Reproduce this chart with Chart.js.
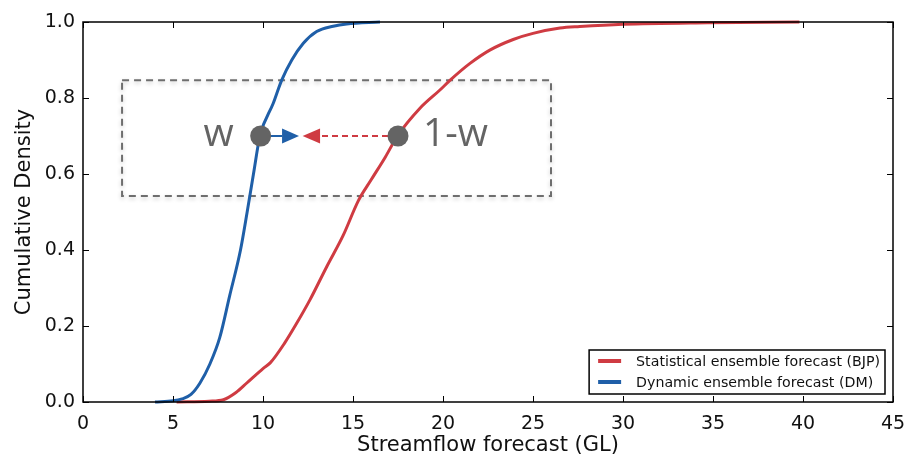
<!DOCTYPE html>
<html>
<head>
<meta charset="utf-8">
<script src="https://cdn.jsdelivr.net/npm/chart.js@4.4.1/dist/chart.umd.min.js"></script>
<style>
  html, body { margin: 0; padding: 0; background: #fff; }
  #wrap { width: 914px; height: 458px; }
</style>
</head>
<body>
<div id="wrap"><canvas id="chart"></canvas></div>
<script>
// ---- data ----
const bjpX = [5.2, 7.0, 7.8, 8.5, 9.1, 10.0, 10.4, 11.2, 11.87, 12.6, 13.54, 14.46, 15.3, 16.0, 16.8, 17.47, 18.72, 19.83, 20.4, 21.5, 22.6, 23.9, 25.0, 26.5, 27.6, 30.0, 34.7, 39.8];
const bjpY = [0, 0.002, 0.006, 0.025, 0.05, 0.088, 0.103, 0.155, 0.207, 0.268, 0.356, 0.439, 0.53, 0.584, 0.645, 0.7, 0.773, 0.821, 0.847, 0.891, 0.926, 0.954, 0.97, 0.984, 0.988, 0.994, 0.998, 1.0];
const dmX = [4.0, 5.0, 5.5, 6.0, 6.5, 7.05, 7.6, 8.15, 8.75, 9.12, 9.47, 9.83, 10.57, 11.04, 11.6, 12.24, 12.98, 13.9, 14.65, 16.5];
const dmY = [0, 0.003, 0.008, 0.02, 0.05, 0.1, 0.17, 0.28, 0.4, 0.5, 0.6, 0.7, 0.786, 0.847, 0.9, 0.944, 0.975, 0.989, 0.995, 1.0];
const seriesNames = ['Statistical ensemble forecast (BJP)', 'Dynamic ensemble forecast (DM)'];
const xTicks = [0, 5, 10, 15, 20, 25, 30, 35, 40, 45];
const yTicks = [0, 0.2, 0.4, 0.6, 0.8, 1.0];

// annotation in data units
const boxX = [2.17, 26];
const boxY = [0.542, 0.847];
const dotX = [9.87, 17.5];
const dotY = [0.7, 0.7];
const dotLabels = ['w', '1-w'];
const pullDM = [9.87, 11.06, 12.0];   // start, head base, tip
const pullBJP = [17.5, 13.17, 12.2];

const RED = '#cf3b42';
const BLUE = '#1f5fa8';
const GREY = '#646464';
const FONT = "'DejaVu Sans', sans-serif";
const seriesColors = [RED, BLUE];

function arrow(ctx, x, y, seg, col, dash) {
  const y0 = y.getPixelForValue(dotY[0]);
  const a = x.getPixelForValue(seg[0]), b = x.getPixelForValue(seg[1]), tip = x.getPixelForValue(seg[2]);
  ctx.save();
  ctx.strokeStyle = col; ctx.fillStyle = col; ctx.lineWidth = 2;
  ctx.setLineDash(dash);
  ctx.beginPath(); ctx.moveTo(a, y0); ctx.lineTo(b, y0); ctx.stroke();
  ctx.setLineDash([]);
  ctx.beginPath();
  ctx.moveTo(tip, y0); ctx.lineTo(b, y0 - 7.5); ctx.lineTo(b, y0 + 7.5); ctx.closePath();
  ctx.fill();
  ctx.restore();
}

const decor = {
  id: 'decor',
  beforeDatasetsDraw(chart) {
    const { ctx, scales: { x, y } } = chart;
    const l = x.getPixelForValue(boxX[0]), r = x.getPixelForValue(boxX[1]);
    const t = y.getPixelForValue(boxY[1]), b = y.getPixelForValue(boxY[0]);
    ctx.save();
    ctx.strokeStyle = '#6e6e6e'; ctx.lineWidth = 2; ctx.setLineDash([7, 5]);
    ctx.shadowColor = 'rgba(0,0,0,0.22)'; ctx.shadowBlur = 4; ctx.shadowOffsetY = 2;
    ctx.strokeRect(l, t, r - l, b - t);
    ctx.restore();
    arrow(ctx, x, y, pullDM, BLUE, []);
    arrow(ctx, x, y, pullBJP, RED, [6, 4]);
  },
  afterDatasetsDraw(chart) {
    const { ctx, chartArea: a, scales: { x, y } } = chart;
    ctx.save();
    // frame + inward ticks (matplotlib look)
    ctx.strokeStyle = '#000'; ctx.lineWidth = 1.5;
    ctx.strokeRect(a.left, a.top, a.right - a.left, a.bottom - a.top);
    ctx.lineWidth = 1;
    ctx.beginPath();
    xTicks.forEach(v => {
      const px = Math.round(x.getPixelForValue(v)) + 0.5;
      ctx.moveTo(px, a.bottom); ctx.lineTo(px, a.bottom - 6);
      ctx.moveTo(px, a.top); ctx.lineTo(px, a.top + 6);
    });
    yTicks.forEach(v => {
      const py = Math.round(y.getPixelForValue(v)) + 0.5;
      ctx.moveTo(a.left, py); ctx.lineTo(a.left + 6, py);
      ctx.moveTo(a.right, py); ctx.lineTo(a.right - 6, py);
    });
    ctx.stroke();

    // legend (lower right, inside the axes)
    ctx.font = '14.2px ' + FONT;
    const tw = Math.max(...seriesNames.map(s => ctx.measureText(s).width));
    const w = 9 + 23 + 15 + tw + 5, h = 44;
    const lx = a.right - 8 - w, ly = a.bottom - 8 - h;
    ctx.fillStyle = '#fff';
    ctx.fillRect(lx, ly, w, h);
    ctx.strokeStyle = '#000'; ctx.lineWidth = 1.5;
    ctx.strokeRect(lx, ly, w, h);
    seriesNames.forEach((name, i) => {
      const cy = ly + 11 + i * 21;
      ctx.strokeStyle = seriesColors[i]; ctx.lineWidth = 4;
      ctx.beginPath(); ctx.moveTo(lx + 9, cy); ctx.lineTo(lx + 32, cy); ctx.stroke();
      ctx.fillStyle = '#111'; ctx.textBaseline = 'middle'; ctx.textAlign = 'left';
      ctx.fillText(name, lx + 47, cy + 1);
    });

    // w / 1-w labels
    ctx.font = "39px 'Open Sans', sans-serif";
    ctx.fillStyle = GREY; ctx.textBaseline = 'alphabetic';
    const py = y.getPixelForValue(dotY[0]) + 10;
    ctx.textAlign = 'right';
    ctx.fillText(dotLabels[0], x.getPixelForValue(dotX[0]) - 27, py);
    ctx.textAlign = 'left';
    ctx.fillText(dotLabels[1], x.getPixelForValue(dotX[1]) + 25, py);
    ctx.restore();
  }
};

new Chart(document.getElementById('chart'), {
  type: 'line',
  data: {
    datasets: [
      { label: 'dots', type: 'scatter', data: dotX.map((v, i) => ({ x: v, y: dotY[i] })),
        pointRadius: 10.5, pointBackgroundColor: GREY, pointBorderWidth: 0, order: -1 },
      { label: seriesNames[1], data: dmX.map((v, i) => ({ x: v, y: dmY[i] })),
        borderColor: BLUE, borderWidth: 3, pointRadius: 0, cubicInterpolationMode: 'monotone', clip: false },
      { label: seriesNames[0], data: bjpX.map((v, i) => ({ x: v, y: bjpY[i] })),
        borderColor: RED, borderWidth: 3, pointRadius: 0, cubicInterpolationMode: 'monotone', clip: false }
    ]
  },
  options: {
    responsive: true,
    maintainAspectRatio: false,
    animation: false,
    layout: { padding: { top: 22, right: 21, left: 0, bottom: 0 } },
    plugins: { legend: { display: false }, tooltip: { enabled: false } },
    scales: {
      x: {
        type: 'linear', min: 0, max: 45,
        afterBuildTicks: s => { s.ticks = xTicks.map(v => ({ value: v })); },
        afterFit: s => { s.height = 56; },
        grid: { display: false }, border: { display: false },
        ticks: { color: '#111', padding: 3, font: { family: FONT, size: 19 } },
        title: { display: true, text: 'Streamflow forecast (GL)', color: '#111',
                 padding: { top: 0, bottom: 0 }, font: { family: FONT, size: 21 } }
      },
      y: {
        min: 0, max: 1,
        afterBuildTicks: s => { s.ticks = yTicks.map(v => ({ value: v })); },
        afterFit: s => { s.width = 83; },
        grid: { display: false }, border: { display: false },
        ticks: { color: '#111', padding: 0, font: { family: FONT, size: 19 },
                 callback: v => Number(v).toFixed(1) },
        title: { display: true, text: 'Cumulative Density', color: '#111',
                 padding: { top: 12, bottom: 0 }, font: { family: FONT, size: 21 } }
      }
    }
  },
  plugins: [decor]
});
</script>
</body>
</html>
